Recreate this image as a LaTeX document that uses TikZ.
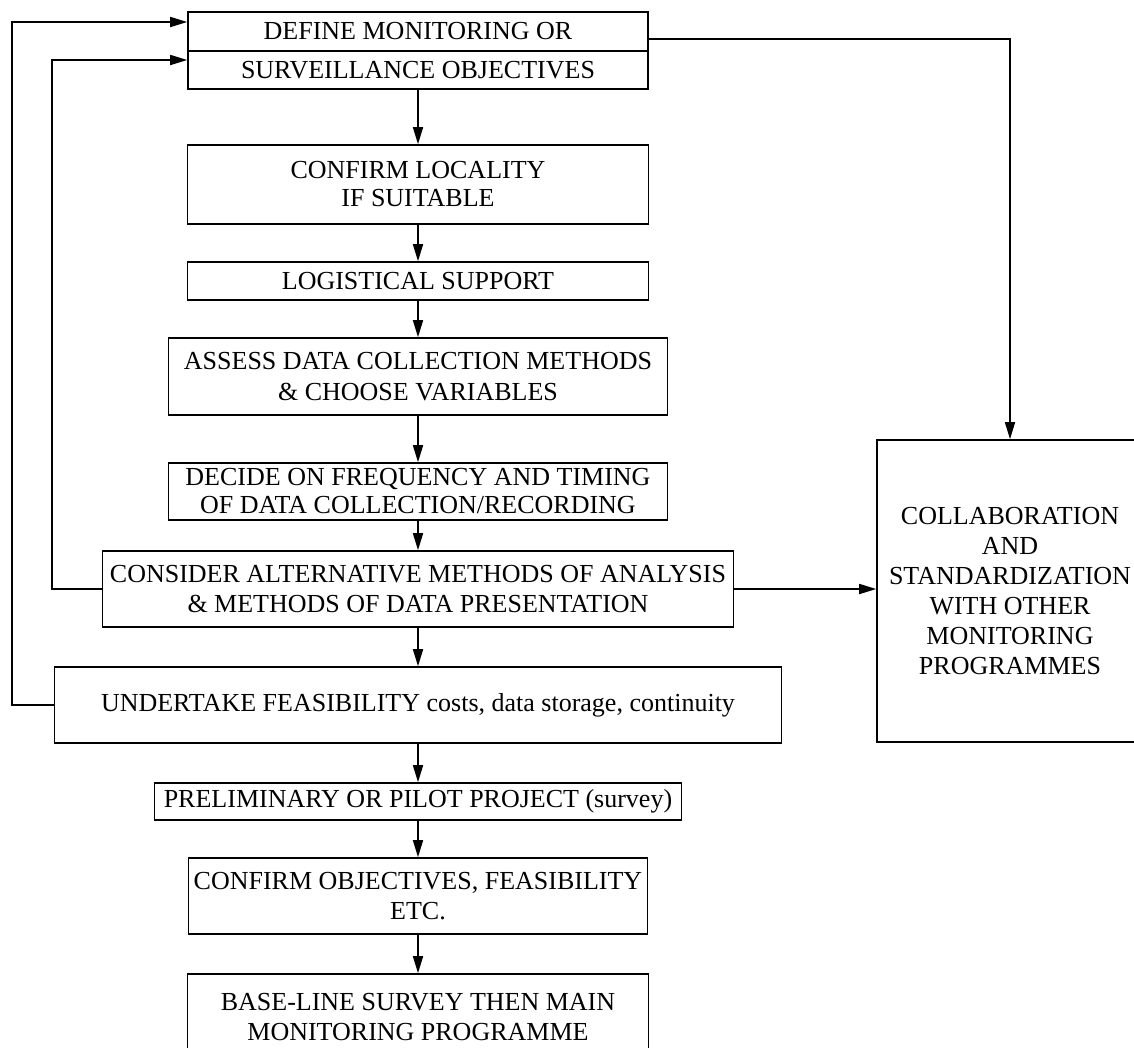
\documentclass[tikz,border=0pt]{standalone}
\usepackage{fontspec}
\setmainfont{Liberation Serif}
\usetikzlibrary{arrows.meta}
\begin{document}
\begin{tikzpicture}[x=1pt,y=-1pt,
  box/.style={draw, line width=1.6pt, rectangle, inner sep=0pt, align=center,
              font=\fontsize{26}{30}\selectfont},
  arr/.style={draw, line width=1.6pt, -{Triangle[length=17pt,width=10pt]}}]
\clip (0,0) rectangle (1134,1047);
\fill[white] (0,0) rectangle (1134,1047);

% main column of steps, all centred on x = 418
\node[box, minimum width=460pt, minimum height=39pt] (def1) at (418,31.5) {DEFINE MONITORING OR};
\node[box, minimum width=460pt, minimum height=38pt] (def2) at (418,70) {SURVEILLANCE OBJECTIVES};
\node[box, minimum width=461pt, minimum height=79pt, font=\fontsize{26}{28}\selectfont] (loc) at (418,184.5) {CONFIRM LOCALITY\\IF SUITABLE};
\node[box, minimum width=461pt, minimum height=38pt] (logi) at (418,281) {LOGISTICAL SUPPORT};
\node[box, minimum width=499pt, minimum height=77pt, font=\fontsize{26}{31}\selectfont] (assess) at (418,376.5) {ASSESS DATA COLLECTION METHODS\\\& CHOOSE VARIABLES};
\node[box, minimum width=499pt, minimum height=57pt, font=\fontsize{26}{28}\selectfont] (decide) at (418,491.5) {DECIDE ON FREQUENCY AND TIMING\\OF DATA COLLECTION/RECORDING};
\node[box, minimum width=631pt, minimum height=76pt] (consider) at (418,589) {CONSIDER ALTERNATIVE METHODS OF ANALYSIS\\\& METHODS OF DATA PRESENTATION};
\node[box, minimum width=727pt, minimum height=76pt] (under) at (418,705) {UNDERTAKE FEASIBILITY costs, data storage, continuity};
\node[box, minimum width=527pt, minimum height=37pt] (prelim) at (418,801.5) {PRELIMINARY OR PILOT PROJECT (survey)};
\node[box, minimum width=459pt, minimum height=76pt] (confobj) at (418,896) {CONFIRM OBJECTIVES, FEASIBILITY\\ETC.};
\node[box, minimum width=461pt, minimum height=86pt, text depth=0pt] (base) at (418,1017) {BASE-LINE SURVEY THEN MAIN\\MONITORING PROGRAMME};

% side box
\node[box, minimum width=266pt, minimum height=302pt] (collab) at (1010,591)
  {COLLABORATION\\AND\\STANDARDIZATION\\WITH OTHER\\MONITORING\\PROGRAMMES};

% downward flow
\draw[arr] (def2) -- (loc);
\draw[arr] (loc) -- (logi);
\draw[arr] (logi) -- (assess);
\draw[arr] (assess) -- (decide);
\draw[arr] (decide) -- (consider);
\draw[arr] (consider) -- (under);
\draw[arr] (under) -- (prelim);
\draw[arr] (prelim) -- (confobj);
\draw[arr] (confobj) -- (base);

% feedback loops to the objectives
\coordinate (outer) at (12,22);
\coordinate (inner) at (52,60);
\draw[arr] (under.west) -| (outer) -- (outer -| def1.west);
\draw[arr] (consider.west) -| (inner) -- (inner -| def2.west);

% links to the collaboration box
\coordinate (rt) at (1010,39);
\draw[arr] (rt -| def1.east) -| (collab.north);
\draw[arr] (consider.east) -- (consider.east -| collab.west);
\end{tikzpicture}
\end{document}
